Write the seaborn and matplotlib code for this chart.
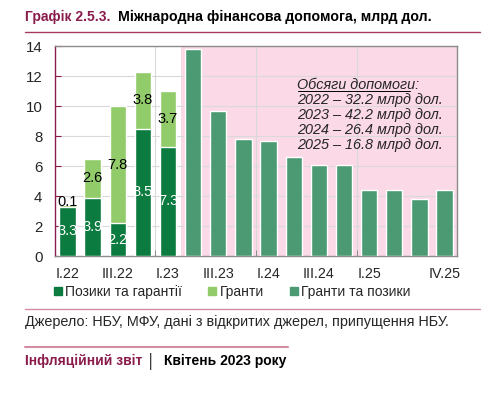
import pandas as pd
import numpy as np
import matplotlib
matplotlib.use("Agg")
import matplotlib.pyplot as plt
import seaborn as sns
from matplotlib.patches import Patch
from matplotlib.lines import Line2D

# data (bn USD per quarter)
quarters = ["I.22", "II.22", "III.22", "IV.22", "I.23", "II.23", "III.23", "IV.23",
            "I.24", "II.24", "III.24", "IV.24", "I.25", "II.25", "III.25", "IV.25"]
loans = [3.3, 3.9, 2.2, 8.5, 7.3] + [np.nan] * 11
grants = [0.1, 2.6, 7.8, 3.8, 3.7] + [np.nan] * 11
mixed = [np.nan] * 5 + [13.8, 9.7, 7.8, 7.7, 6.6, 6.1, 6.1, 4.4, 4.4, 3.8, 4.4]
shown_ticks = ["I.22", "", "III.22", "", "I.23", "", "III.23", "",
               "I.24", "", "III.24", "", "I.25", "", "", "IV.25"]
totals_text = ["Обсяги допомоги:",
               "2022 – 32.2 млрд дол.",
               "2023 – 42.2 млрд дол.",
               "2024 – 26.4 млрд дол.",
               "2025 – 16.8 млрд дол."]

df = pd.DataFrame({"q": quarters, "loans": loans, "grants": grants, "mixed": mixed})
df["total"] = df["loans"] + df["grants"]

c_loans = "#0b7b3f"
c_grants = "#92cb69"
c_mixed = "#4b9a73"
c_pink = "#fbd9e7"
c_maroon = "#8a1c4c"
c_line = "#d58ca2"

sns.set_style("white")
plt.rcParams["font.family"] = ["Liberation Sans", "DejaVu Sans"]

fig = plt.figure(figsize=(4.9, 3.94), dpi=100)
ax = fig.add_axes([0.112, 0.350, 0.821, 0.533])

ax.axvspan(4.5, 15.5, color=c_pink, lw=0, zorder=0)

w = 0.65
sns.barplot(data=df, x="q", y="total", order=quarters, color=c_grants,
            saturation=1, width=w, ax=ax, zorder=3)
sns.barplot(data=df, x="q", y="loans", order=quarters, color=c_loans,
            saturation=1, width=w, ax=ax, zorder=3)
sns.barplot(data=df, x="q", y="mixed", order=quarters, color=c_mixed,
            saturation=1, width=w, ax=ax, zorder=3)

# value labels on the stacked part
for i in range(5):
    ax.text(i, loans[i] / 2, f"{loans[i]:.1f}", ha="center", va="center",
            color="white", fontsize=10.5, zorder=5)
    yg = loans[i] + grants[i] / 2
    if grants[i] < 0.5:
        yg = loans[i] + 0.3
    ax.text(i, yg, f"{grants[i]:.1f}", ha="center", va="center",
            color="black", fontsize=10.5, zorder=5)

ax.set_xlim(-0.5, 15.5)
ax.set_ylim(0, 14)
ax.set_yticks(range(0, 15, 2))
ax.set_xticks(range(16))
ax.set_xticklabels(shown_ticks)
ax.set_xticks([3.5, 7.5, 11.5], minor=True)
ax.set_xlabel("")
ax.set_ylabel("")

ax.grid(axis="y", color="#d9d9d9", lw=0.8, zorder=1)
ax.grid(axis="x", which="minor", color="#d9d9d9", lw=0.8, zorder=1)
ax.set_axisbelow(True)

ax.tick_params(axis="x", which="major", length=0, labelsize=10.3, pad=8)
ax.tick_params(axis="x", which="minor", length=4, direction="in", color="#808080", bottom=True)
ax.tick_params(axis="y", length=4, direction="in", color=c_maroon, labelsize=10.8, pad=9, left=True)

for s in ["top", "right", "bottom"]:
    ax.spines[s].set_color("#8c8c8c")
    ax.spines[s].set_linewidth(1.0)
ax.spines["left"].set_color(c_maroon)
ax.spines["left"].set_linewidth(1.0)

# annotation with yearly totals
for k, line in enumerate(totals_text):
    ax.text(0.603, 0.815 - k * 0.071, line, transform=ax.transAxes,
            fontsize=10.4, style="italic", ha="left", va="center", zorder=6)
und = Line2D([0.605, 0.882], [0.785, 0.785], transform=ax.transAxes,
             color="black", lw=0.7, zorder=6)
ax.add_line(und)

# legend
handles = [Patch(color=c_loans, label="Позики та гарантії"),
           Patch(color=c_grants, label="Гранти"),
           Patch(color=c_mixed, label="Гранти та позики")]
fig.legend(handles=handles, loc="center", bbox_to_anchor=(0.474, 0.259), ncol=3,
           frameon=False, fontsize=10, handlelength=0.55, handleheight=0.55,
           handletextpad=0.25, columnspacing=1.9)

# title block
fig.text(0.051, 0.957, "Графік 2.5.3.", color=c_maroon, fontsize=10,
         fontweight="bold", ha="left", va="center")
fig.text(0.240, 0.957, "Міжнародна фінансова допомога, млрд дол.", color="black",
         fontsize=10.15, fontweight="bold", ha="left", va="center")
fig.add_artist(Line2D([0.051, 0.98], [0.919, 0.919], color="#a8395f", lw=1.0))

# source and footer
fig.add_artist(Line2D([0.051, 0.98], [0.216, 0.216], color=c_line, lw=1.0))
fig.text(0.051, 0.183, "Джерело: НБУ, МФУ, дані з відкритих джерел, припущення НБУ.",
         fontsize=10.4, ha="left", va="center")
fig.add_artist(Line2D([0.051, 0.588], [0.119, 0.119], color=c_line, lw=1.5))
fig.text(0.051, 0.083, "Інфляційний звіт", color=c_maroon, fontsize=10,
         fontweight="bold", ha="left", va="center")
fig.text(0.308, 0.083, "│", color="black", fontsize=10, ha="center", va="center")
fig.text(0.334, 0.083, "Квітень 2023 року", color="black", fontsize=10,
         fontweight="bold", ha="left", va="center")

fig.savefig("out.png", dpi=100)
